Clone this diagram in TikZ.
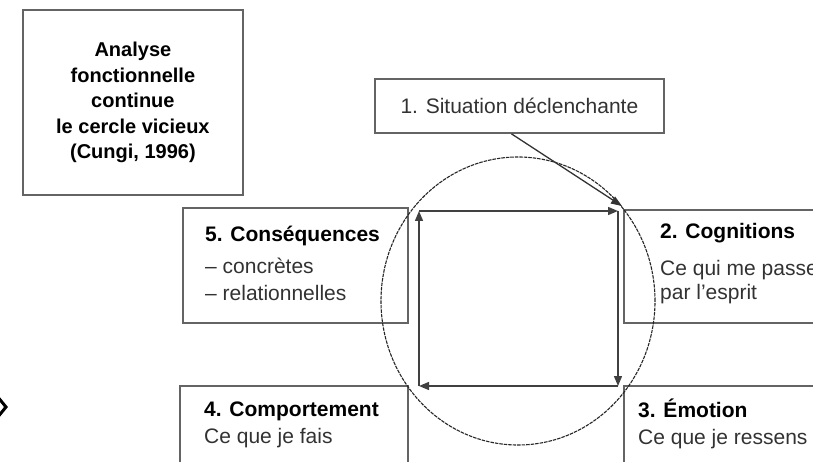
\documentclass[tikz,border=0pt]{standalone}
\usepackage{fontspec}
\setmainfont{Liberation Sans}
\usetikzlibrary{arrows.meta}

\definecolor{boxgray}{RGB}{100,100,100}
\definecolor{textgray}{RGB}{50,50,50}

\tikzset{
  box/.style={draw=boxgray, line width=1.8pt, rectangle, inner sep=0pt, anchor=north west},
  head/.style={font=\fontsize{21}{25}\selectfont\bfseries, inner sep=0pt, anchor=base west},
  body/.style={font=\fontsize{21}{25}\selectfont, text=textgray, inner sep=0pt, anchor=base west},
  cyclearrow/.style={draw=black!75, line width=1.4pt, -{Triangle[length=10pt,width=8pt]}},
}

\begin{document}
\begin{tikzpicture}[x=1pt, y=-1pt]
  \clip (0,0) rectangle (813,462);

  % Title
  \node[box, minimum width=220pt, minimum height=185pt, align=center,
        font=\fontsize{20}{25.5}\selectfont\bfseries] (title) at (22,9)
        {Analyse\\fonctionnelle\\continue\\le cercle vicieux\\(Cungi, 1996)};

  \node[box, minimum width=289pt, minimum height=54pt,
        font=\fontsize{21}{25}\selectfont, text=textgray] (sit) at (374,78)
        {1. Situation déclenchante};

  % Boxes
  \node[box, minimum width=225pt, minimum height=115pt] (cons) at (182,207) {};
  \node[box, minimum width=230pt, minimum height=113pt] (cog)  at (623,209) {};
  \node[box, minimum width=228pt, minimum height=100pt] (comp) at (179,385) {};
  \node[box, minimum width=230pt, minimum height=100pt] (emo)  at (623,385) {};

  \node[head] (consH) at (205,242) {5. Conséquences};
  \node[body] (consA) at (205,273) {-- concrètes};
  \node[body] (consB) at (205,300) {-- relationnelles};

  \node[head] (cogH) at (660,239) {2. Cognitions};
  \node[body] (cogA) at (660,275) {Ce qui me passe};
  \node[body] (cogB) at (660,299) {par l'esprit};

  \node[head] (compH) at (204,416) {4. Comportement};
  \node[body] (compA) at (204,443) {Ce que je fais};

  \node[head] (emoH) at (638,417) {3. Émotion};
  \node[body] (emoA) at (638,444) {Ce que je ressens};

  % Circle
  \draw[black!85, line width=1.1pt, dash pattern=on 3.5pt off 1pt] (518,301) ellipse [x radius=137pt, y radius=144pt];

  % Cycle
  \coordinate (tl) at (419,211);
  \coordinate (tr) at (618,211);
  \coordinate (br) at (618,386);
  \coordinate (bl) at (419,386);
  \draw[cyclearrow] (tl) -- (tr);
  \draw[cyclearrow] (tr) -- (br);
  \draw[cyclearrow] (br) -- (bl);
  \draw[cyclearrow] (bl) -- (tl);

  \draw[black!80, line width=1.3pt, -{Triangle[length=11pt,width=8pt]}]
    ([xshift=-8pt]sit.south) -- ([xshift=-1pt,yshift=3pt]cog.north west);

  \draw[line width=3pt, miter limit=10] (-3,396) -- (6,407) -- (-3,418);
\end{tikzpicture}
\end{document}
